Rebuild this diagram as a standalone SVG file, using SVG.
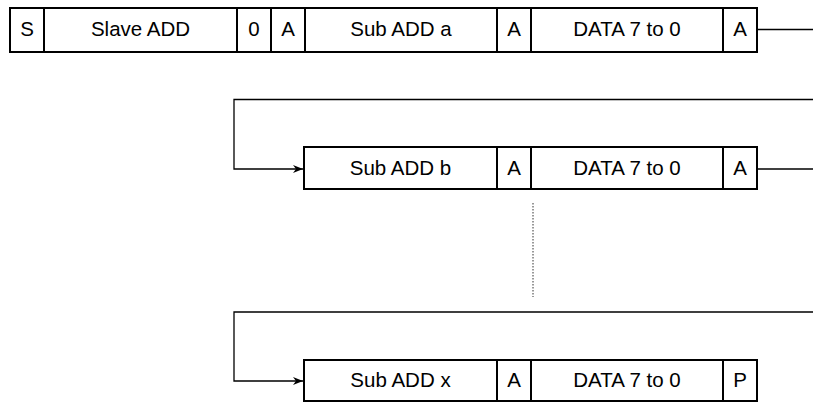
<svg xmlns="http://www.w3.org/2000/svg" width="813" height="403" viewBox="0 0 813 403">
<style>
.box{fill:#fff;stroke:#000;stroke-width:2}
.t{font-family:"Liberation Sans",Arial,sans-serif;font-size:20.5px;fill:#000;text-anchor:middle}
.ln{fill:none;stroke:#000;stroke-width:1.3}
.dot{fill:none;stroke:#333;stroke-width:1;stroke-dasharray:1.5 1.5}
</style>
<defs>
<marker id="arr" viewBox="0 0 10 10" refX="10" refY="5" markerWidth="10" markerHeight="10" markerUnits="userSpaceOnUse" orient="auto">
<path d="M0,1 L10,5 L0,9 L3,5 Z" fill="#000"/>
</marker>
</defs>
<g id="connectors">
<path class="ln" d="M757,29.5 H813"/>
<path class="ln" d="M813,99.5 H234 V169 H303" marker-end="url(#arr)"/>
<path class="ln" d="M757,169 H813"/>
<path class="dot" d="M533,203 V297"/>
<path class="ln" d="M813,312 H234 V381 H303" marker-end="url(#arr)"/>
</g>
<g id="row1">
<g id="s"><rect class="box" x="10" y="8" width="34" height="44"/><text class="t" x="27" y="35.5">S</text></g>
<g id="slave"><rect class="box" x="44" y="8" width="193" height="44"/><text class="t" x="140.5" y="35.5">Slave ADD</text></g>
<g id="zero"><rect class="box" x="237" y="8" width="34" height="44"/><text class="t" x="254" y="35.5">0</text></g>
<g id="a1"><rect class="box" x="271" y="8" width="34" height="44"/><text class="t" x="288" y="35.5">A</text></g>
<g id="suba"><rect class="box" x="305" y="8" width="192" height="44"/><text class="t" x="401" y="35.5">Sub ADD a</text></g>
<g id="a2"><rect class="box" x="497" y="8" width="34" height="44"/><text class="t" x="514" y="35.5">A</text></g>
<g id="data1"><rect class="box" x="531" y="8" width="192" height="44"/><text class="t" x="627" y="35.5">DATA 7 to 0</text></g>
<g id="a3"><rect class="box" x="723" y="8" width="34" height="44"/><text class="t" x="740" y="35.5">A</text></g>
</g>
<g id="row2">
<g id="subb"><rect class="box" x="304" y="147" width="193" height="42"/><text class="t" x="400.5" y="175">Sub ADD b</text></g>
<g id="a4"><rect class="box" x="497" y="147" width="34" height="42"/><text class="t" x="514" y="175">A</text></g>
<g id="data2"><rect class="box" x="531" y="147" width="192" height="42"/><text class="t" x="627" y="175">DATA 7 to 0</text></g>
<g id="a5"><rect class="box" x="723" y="147" width="34" height="42"/><text class="t" x="740" y="175">A</text></g>
</g>
<g id="row3">
<g id="subx"><rect class="box" x="304" y="360" width="193" height="41"/><text class="t" x="400.5" y="387">Sub ADD x</text></g>
<g id="a6"><rect class="box" x="497" y="360" width="34" height="41"/><text class="t" x="514" y="387">A</text></g>
<g id="data3"><rect class="box" x="531" y="360" width="192" height="41"/><text class="t" x="627" y="387">DATA 7 to 0</text></g>
<g id="p"><rect class="box" x="723" y="360" width="34" height="41"/><text class="t" x="740" y="387">P</text></g>
</g>
</svg>
